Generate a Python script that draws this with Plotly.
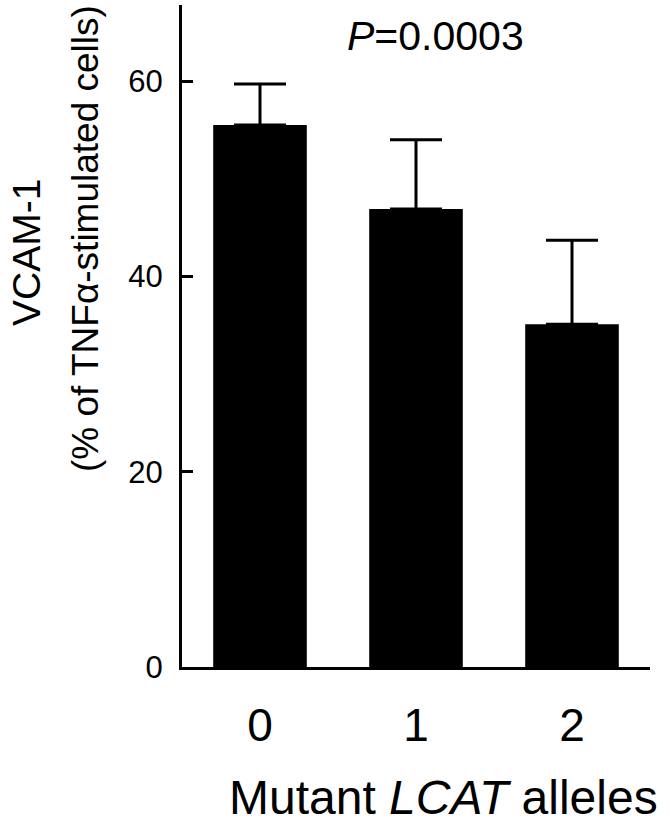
import plotly.graph_objects as go

# values
alleles = ["0", "1", "2"]
vcam_mean = [55.5, 46.9, 35.1]
vcam_err = [4.2, 7.1, 8.6]
y_ticks = [0, 20, 40, 60]

FONT = "Liberation Sans, Arial, sans-serif"

fig = go.Figure()
fig.add_trace(go.Bar(
    x=alleles, y=vcam_mean, width=0.6,
    marker=dict(color="black", line=dict(width=0)),
    error_y=dict(type="data", array=vcam_err, arrayminus=[0, 0, 0],
                 symmetric=False, color="black", thickness=3, width=26),
))

fig.update_layout(
    width=670, height=826,
    margin=dict(l=182, r=20, t=5, b=159),
    paper_bgcolor="white", plot_bgcolor="white",
    showlegend=False,
    font=dict(family=FONT, color="black"),
)
fig.update_xaxes(
    type="category", range=[-0.5, 2.5],
    showline=True, linecolor="black", linewidth=3,
    ticks="", tickfont=dict(size=46), ticklabelstandoff=16,
    showgrid=False, zeroline=False,
)
fig.update_yaxes(
    range=[0, 67.8], tickvals=y_ticks,
    showline=True, linecolor="black", linewidth=3,
    ticks="inside", ticklen=11, tickwidth=3, tickcolor="black",
    tickfont=dict(size=31), ticklabelstandoff=10,
    showgrid=False, zeroline=False,
)

# plot area: x 182..650 px, y 5..667 px
def px_x(p):
    return (p - 182) / 468

def px_y(p):
    return (667 - p) / 662

fig.add_annotation(text="<i>P</i>=0.0003", xref="paper", yref="paper",
                   x=px_x(435), y=px_y(36), showarrow=False,
                   xanchor="center", yanchor="middle", font=dict(size=41))
fig.add_annotation(text="Mutant <i>LCAT</i> alleles", xref="paper", yref="paper",
                   x=px_x(443), y=px_y(797), showarrow=False,
                   xanchor="center", yanchor="middle", font=dict(size=48))
fig.add_annotation(text="VCAM-1", xref="paper", yref="paper",
                   x=px_x(26), y=px_y(253), showarrow=False,
                   textangle=-90, xanchor="center", yanchor="middle",
                   font=dict(size=39))
fig.add_annotation(text="(% of TNFα-stimulated cells)", xref="paper", yref="paper",
                   x=px_x(85), y=px_y(239), showarrow=False,
                   textangle=-90, xanchor="center", yanchor="middle",
                   font=dict(size=37))

fig.write_html("out.html", config={"displayModeBar": False},
               post_script="document.body.style.margin='0';")
